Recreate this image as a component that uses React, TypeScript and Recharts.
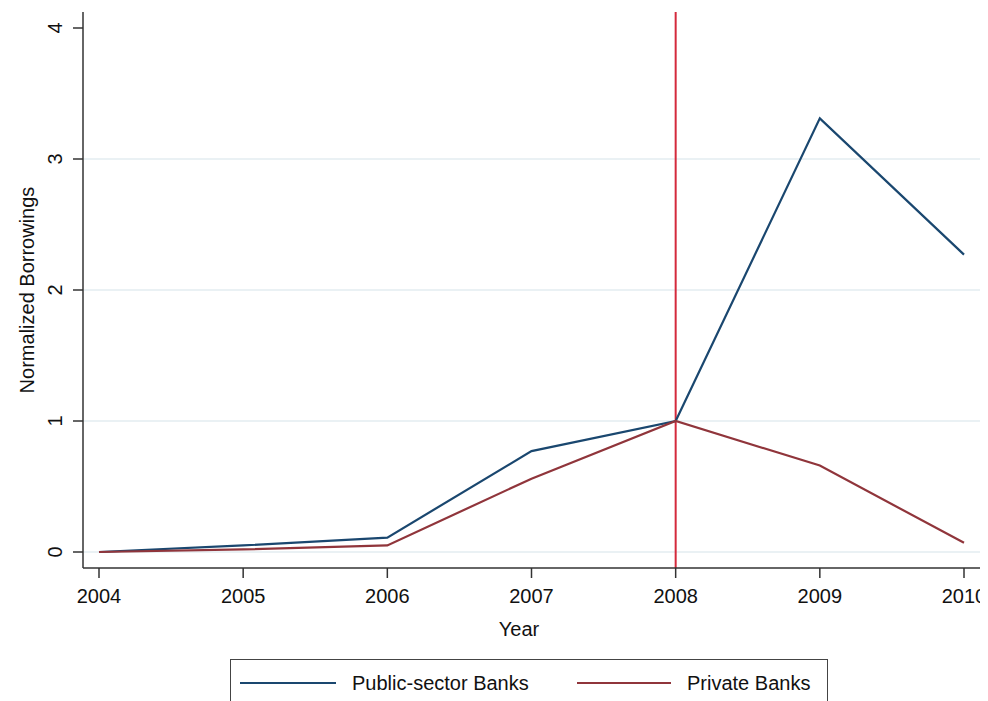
import React from 'react';
import { LineChart, Line, XAxis, YAxis, CartesianGrid, ReferenceLine, Legend } from 'recharts';

const years = [2004, 2005, 2006, 2007, 2008, 2009, 2010];
const publicBanks = [0, 0.05, 0.11, 0.77, 1.0, 3.31, 2.27];
const privateBanks = [0, 0.02, 0.05, 0.56, 1.0, 0.66, 0.07];
const yTicks = [0, 1, 2, 3, 4];
const gridValues = [0, 1, 2, 3];
const seriesNames = ['Public-sector Banks', 'Private Banks'];

const data = years.map((y, i) => ({ year: y, pub: publicBanks[i], priv: privateBanks[i] }));

const FONT = '"Liberation Sans", Arial, sans-serif';
const BLUE = '#1a476f';
const MAROON = '#90353b';
const RED = '#d42a3c';

const YTick = (props: any) => {
  const { x, y, payload } = props;
  return (
    <text
      x={0}
      y={0}
      dy="0.36em"
      transform={`translate(${x},${y}) rotate(-90)`}
      textAnchor="middle"
      fontFamily={FONT}
      fontSize={20}
      fill="#111"
    >
      {payload.value}
    </text>
  );
};

const XTick = (props: any) => {
  const { x, y, payload } = props;
  return (
    <text x={x} y={y} dy="0.71em" textAnchor="middle" fontFamily={FONT} fontSize={20} fill="#111">
      {payload.value}
    </text>
  );
};

const LegendBox = () => (
  <div
    style={{
      position: 'relative',
      width: 598,
      height: 46,
      border: '1.5px solid #444',
      boxSizing: 'border-box',
      background: '#fff',
      fontFamily: FONT,
      fontSize: 20,
      color: '#111',
    }}
  >
    <div style={{ position: 'absolute', left: 9, top: 22, width: 96, height: 2, background: BLUE }} />
    <div style={{ position: 'absolute', left: 121, top: 11, lineHeight: '24px', whiteSpace: 'nowrap' }}>{seriesNames[0]}</div>
    <div style={{ position: 'absolute', left: 346, top: 22, width: 94, height: 2, background: MAROON }} />
    <div style={{ position: 'absolute', left: 456, top: 11, lineHeight: '24px', whiteSpace: 'nowrap' }}>{seriesNames[1]}</div>
  </div>
);

export default function App() {
  return (
    <div style={{ width: 996, height: 693, position: 'relative' }}>
      <style>{`html, body { overflow: hidden; } #root { width: 996px; } .recharts-wrapper, .recharts-surface { overflow: visible !important; }`}</style>
      <LineChart width={996} height={693} data={data} margin={{ top: 4, right: 24, bottom: 0, left: 0 }}>
        <CartesianGrid horizontal vertical={false} horizontalValues={gridValues} stroke="#e3ecf1" strokeWidth={1.5} />
        <XAxis
          dataKey="year"
          type="number"
          domain={[2004, 2010]}
          ticks={years}
          interval={0}
          padding={{ left: 16, right: 16 }}
          height={133}
          tickSize={10}
          tickMargin={11}
          stroke="#333"
          strokeWidth={1.5}
          tick={<XTick />}
          label={{
            content: (p: any) => (
              <text x={511} y={628} textAnchor="middle" fontFamily={FONT} fontSize={20} fill="#111">
                Year
              </text>
            ),
          }}
        />
        <YAxis
          type="number"
          domain={[0, 4]}
          ticks={yTicks}
          padding={{ top: 16, bottom: 16 }}
          width={75}
          tickSize={10}
          tickMargin={18}
          stroke="#333"
          strokeWidth={1.5}
          tick={<YTick />}
          label={{
            content: (p: any) => (
              <text
                x={0}
                y={0}
                transform="translate(19,282) rotate(-90)"
                dy="0.36em"
                textAnchor="middle"
                fontFamily={FONT}
                fontSize={20}
                fill="#111"
              >
                Normalized Borrowings
              </text>
            ),
          }}
        />
        <ReferenceLine x={2008} stroke={RED} strokeWidth={2} />
        <Line dataKey="pub" name={seriesNames[0]} stroke={BLUE} strokeWidth={2.2} dot={false} isAnimationActive={false} />
        <Line dataKey="priv" name={seriesNames[1]} stroke={MAROON} strokeWidth={2.2} dot={false} isAnimationActive={false} />
        <Legend
          layout="horizontal"
          verticalAlign="middle"
          align="center"
          wrapperStyle={{ top: 651, left: 222, width: 598, height: 46 }}
          content={() => <LegendBox />}
        />
      </LineChart>
    </div>
  );
}
